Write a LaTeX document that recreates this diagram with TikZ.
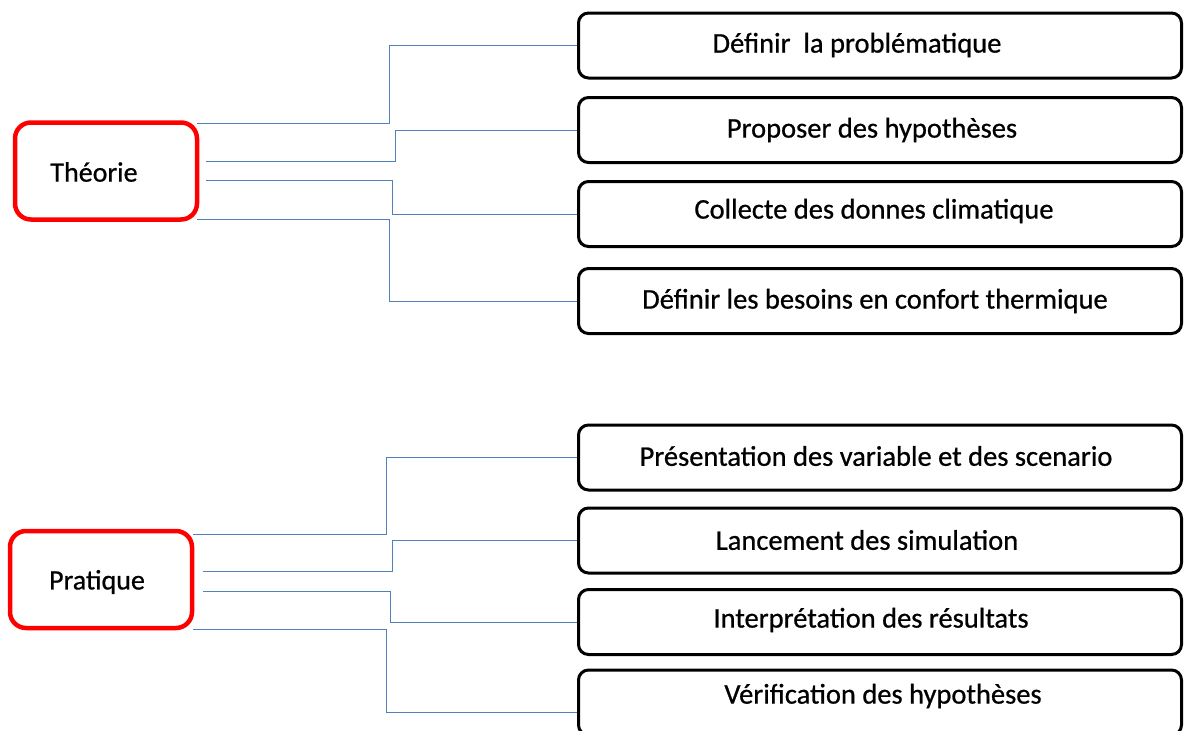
\documentclass[tikz,border=0pt]{standalone}
\usepackage{fontspec}
\setmainfont{Carlito}
\newfontfamily\lblfont{Carlito}[UprightFeatures={FakeBold=0.7}]
\definecolor{linkblue}{HTML}{4F81BD}
\definecolor{headred}{HTML}{FF0000}
\tikzset{
  stepbox/.style={draw=black, line width=3pt, rounded corners=10pt,
    minimum width=603pt, minimum height=65pt, inner sep=0pt},
  headbox/.style={draw=headred, line width=4.5pt, rounded corners=16pt,
    minimum width=182pt, minimum height=97pt, inner sep=0pt},
  steplabel/.style={font=\lblfont\fontsize{28.5}{32}\selectfont, inner sep=0pt, anchor=center},
  headlabel/.style={font=\lblfont\fontsize{28}{32}\selectfont, inner sep=0pt, anchor=center},
  link/.style={draw=linkblue, line width=1pt},
}
\begin{document}
\begin{tikzpicture}[x=1pt, y=-1pt]
\useasboundingbox (0,0) rectangle (1184,731);
\clip (0,0) rectangle (1184,731);

% Theory block
\node[headbox] (th) at (106,171) {};
\node[headlabel] (thl) at (94,172) {Théorie};

\node[stepbox] (t1) at (880,45.5) {};
\node[steplabel] at (857,45) {Définir\ \ la problématique};
\node[stepbox] (t2) at (880,130) {};
\node[steplabel] at (872,130) {Proposer des hypothèses};
\node[stepbox] (t3) at (880,214) {};
\node[steplabel] at (874,211) {Collecte des donnes climatique};
\node[stepbox] (t4) at (880,301) {};
\node[steplabel] at (875,301) {Définir les besoins en confort thermique};

\coordinate (ta) at (197,123);
\coordinate (tb) at (206,161);
\coordinate (tc) at (206,180);
\coordinate (td) at (197,219);
\draw[link] (ta) -- (389,123) |- (t1.west);
\draw[link] (tb) -- (395,161) |- (t2.west);
\draw[link] (tc) -- (392,180) |- (t3.west);
\draw[link] (td) -- (389,219) |- (t4.west);

% Practice block
\node[headbox] (pr) at (101,579.5) {};
\node[headlabel] (prl) at (97,582) {Pratique};

\node[stepbox] (p1) at (880,457.5) {};
\node[steplabel] at (876,456) {Présentation des variable et des scenario};
\node[stepbox] (p2) at (880,540.5) {};
\node[steplabel] at (867,540) {Lancement des simulation};
\node[stepbox] (p3) at (880,622) {};
\node[steplabel] at (871,620) {Interprétation des résultats};
\node[stepbox] (p4) at (880,702.5) {};
\node[steplabel] at (883,696) {Vérification des hypothèses};

\coordinate (pa) at (193,534);
\coordinate (pb) at (203,571);
\coordinate (pc) at (203,591);
\coordinate (pd) at (193,629);
\draw[link] (pa) -- (386,534) |- (p1.west);
\draw[link] (pb) -- (392,571) |- (p2.west);
\draw[link] (pc) -- (390,591) |- (p3.west);
\draw[link] (pd) -- (386,629) -- (386,712) -- (p4.west |- 0,712);
\end{tikzpicture}
\end{document}
